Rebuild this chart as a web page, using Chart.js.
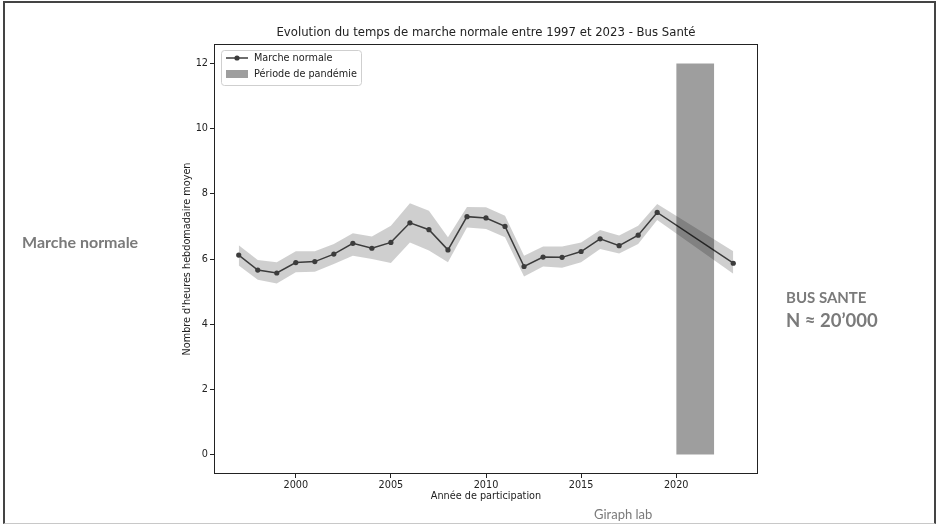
<!DOCTYPE html>
<html>
<head>
<meta charset="utf-8">
<script src="https://cdn.jsdelivr.net/npm/chart.js@4.4.1/dist/chart.umd.min.js"></script>
<style>
  body { margin: 0; background: #fff; }
  #wrap { position: relative; width: 938px; height: 527px; overflow: hidden; background: #fff; }
  #chart { position: absolute; left: 0; top: 0; }
  #frame { position: absolute; left: 3px; top: 1px; width: 933px; height: 523px; box-sizing: border-box;
           border: 2px solid #444; border-bottom: 1px solid #c8c8c8; }
  .side { position: absolute; font-family: Lato, "Open Sans", sans-serif; font-weight: bold; color: #7a7a7a; white-space: nowrap; }
</style>
</head>
<body>
<div id="wrap">
  <canvas id="chart" width="938" height="527"></canvas>
  <div id="frame"></div>
  <div class="side" style="left:22px;top:232px;font-size:16px">Marche normale</div>
  <div class="side" style="left:786px;top:288px;font-size:15px">BUS SANTE</div>
  <div class="side" style="left:786px;top:309px;font-size:18.5px">N ≈ 20’000</div>
  <div class="side" style="left:594px;top:506px;font-size:13px;font-weight:normal">Giraph lab</div>
</div>
<script>
const years = [1997, 1998, 1999, 2000, 2001, 2002, 2003, 2004, 2005, 2006, 2007, 2008,
  2009, 2010, 2011, 2012, 2013, 2014, 2015, 2016, 2017, 2018, 2019, 2023]
const walking = [6.12, 5.66, 5.57, 5.89, 5.92, 6.15, 6.48, 6.33, 6.51, 7.11, 6.9, 6.28,
  7.3, 7.26, 7.0, 5.77, 6.06, 6.05, 6.23, 6.62, 6.41, 6.73, 7.43, 5.87]
const upper = [6.42, 5.97, 5.9, 6.24, 6.24, 6.46, 6.79, 6.69, 7.02, 7.71, 7.48, 6.67,
  7.6, 7.59, 7.33, 6.1, 6.38, 6.38, 6.51, 6.89, 6.72, 7.02, 7.69, 6.24]
const lower = [5.8, 5.36, 5.25, 5.59, 5.61, 5.85, 6.1, 6.0, 5.88, 6.51, 6.26, 5.9,
  6.97, 6.92, 6.67, 5.46, 5.77, 5.73, 5.9, 6.31, 6.17, 6.46, 7.2, 5.55]
const pandemicYears = [2020, 2022]
const pandemicHeight = 12
const xTicks = [2000, 2005, 2010, 2015, 2020]
const yTicks = [0, 2, 4, 6, 8, 10, 12]

const FONT = 'DejaVu Sans'
const INK = '#222'
const LINE = '#3c3c3c'
const BAND = 'rgba(0,0,0,0.19)'
const BAR = 'rgba(0,0,0,0.38)'

const pts = (vals) => years.map((x, i) => ({ x, y: vals[i] }))

// legend box, title and the four spines, drawn like matplotlib
const decorations = {
  id: 'decorations',
  afterDraw(chart) {
    const { ctx, chartArea: a } = chart
    ctx.save()
    ctx.strokeStyle = INK
    ctx.lineWidth = 1
    ctx.strokeRect(a.left + 0.5, a.top + 0.5, a.right - a.left - 1, a.bottom - a.top - 1)

    ctx.fillStyle = INK
    ctx.font = `11.7px "${FONT}"`
    ctx.textAlign = 'center'
    ctx.textBaseline = 'middle'
    ctx.fillText('Evolution du temps de marche normale entre 1997 et 2023 - Bus Santé', (a.left + a.right) / 2, 33)

    const lx = a.left + 7, ly = a.top + 6, lw = 140, lh = 35
    ctx.fillStyle = 'rgba(255,255,255,0.85)'
    ctx.strokeStyle = '#cfcfcf'
    ctx.beginPath()
    ctx.roundRect(lx + 0.5, ly + 0.5, lw, lh, 3)
    ctx.fill()
    ctx.stroke()

    ctx.strokeStyle = LINE
    ctx.lineWidth = 1.5
    ctx.beginPath()
    ctx.moveTo(lx + 5, ly + 8)
    ctx.lineTo(lx + 27, ly + 8)
    ctx.stroke()
    ctx.fillStyle = LINE
    ctx.beginPath()
    ctx.arc(lx + 16, ly + 8, 2.6, 0, Math.PI * 2)
    ctx.fill()

    ctx.fillStyle = BAR
    ctx.fillRect(lx + 5, ly + 20, 22, 8)

    ctx.fillStyle = INK
    ctx.font = `9.7px "${FONT}"`
    ctx.textAlign = 'left'
    ctx.fillText('Marche normale', lx + 33, ly + 8)
    ctx.fillText('Période de pandémie', lx + 33, ly + 24)
    ctx.restore()
  },
}

new Chart(document.getElementById('chart'), {
  type: 'line',
  data: {
    datasets: [
      {
        label: 'Marche normale',
        data: pts(walking),
        borderColor: LINE,
        borderWidth: 1.5,
        pointRadius: 2.6,
        pointBackgroundColor: LINE,
        pointBorderWidth: 0,
        fill: false,
        tension: 0,
        order: 1,
      },
      {
        label: 'upper',
        data: pts(upper),
        borderColor: 'transparent',
        borderWidth: 0,
        pointRadius: 0,
        backgroundColor: BAND,
        fill: '+1',
        order: 2,
      },
      {
        label: 'lower',
        data: pts(lower),
        borderColor: 'transparent',
        borderWidth: 0,
        pointRadius: 0,
        fill: false,
        order: 3,
      },
      {
        label: 'Période de pandémie',
        data: pandemicYears.map((x) => ({ x, y: pandemicHeight })),
        borderColor: 'transparent',
        borderWidth: 0,
        pointRadius: 0,
        backgroundColor: BAR,
        fill: { value: 0 },
        order: 0,
      },
    ],
  },
  options: {
    responsive: false,
    animation: false,
    layout: { padding: { left: 178, right: 180, top: 44, bottom: 21 } },
    plugins: {
      legend: { display: false },
      tooltip: { enabled: false },
    },
    scales: {
      x: {
        type: 'linear',
        min: 1995.7,
        max: 2024.3,
        afterBuildTicks: (s) => { s.ticks = xTicks.map((value) => ({ value })) },
        afterFit: (s) => { s.height = 32 },
        grid: { drawOnChartArea: false, tickLength: 4, color: INK },
        border: { display: false },
        ticks: { color: INK, padding: 2, font: { family: FONT, size: 9.7 }, callback: (v) => String(v) },
        title: { display: true, text: 'Année de participation', color: INK, font: { family: FONT, size: 9.7 } },
      },
      y: {
        min: -0.6,
        max: 12.6,
        afterBuildTicks: (s) => { s.ticks = yTicks.map((value) => ({ value })) },
        afterFit: (s) => { s.width = 36 },
        grid: { drawOnChartArea: false, tickLength: 4, color: INK },
        border: { display: false },
        ticks: { color: INK, padding: 2, font: { family: FONT, size: 9.7 } },
        title: { display: true, text: "Nombre d'heures hebdomadaire moyen", color: INK, font: { family: FONT, size: 9.7 } },
      },
    },
  },
  plugins: [decorations],
})
</script>
</body>
</html>
